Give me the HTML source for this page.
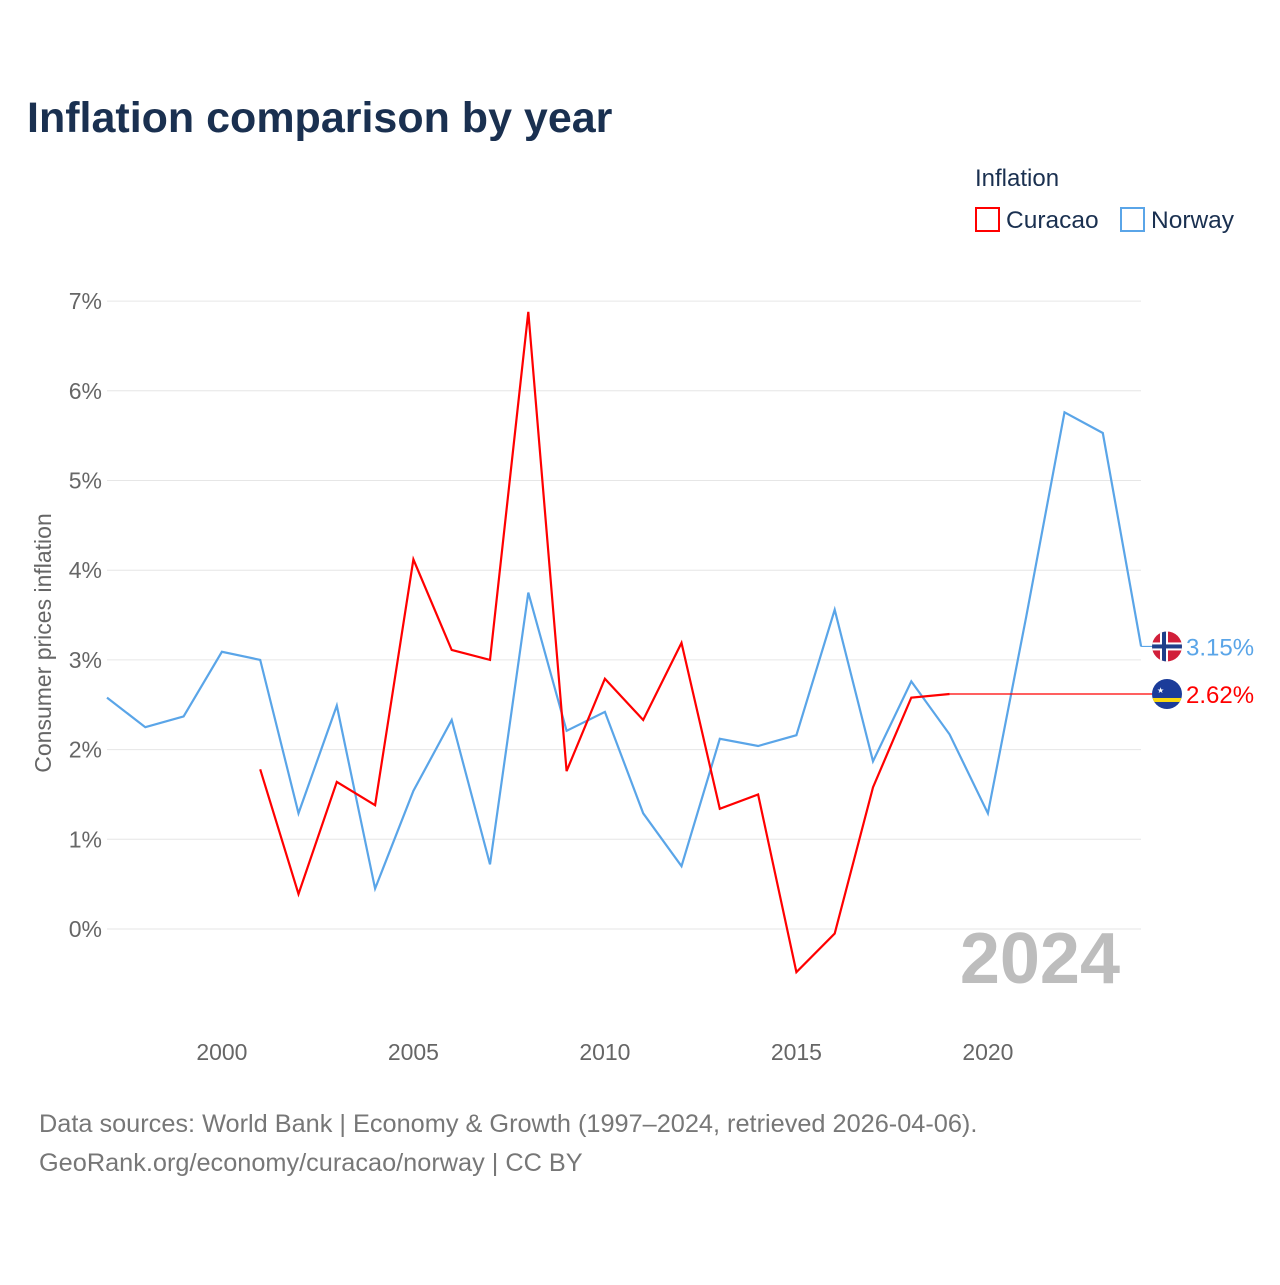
<!DOCTYPE html>
<html><head><meta charset="utf-8"><style>
body{margin:0;background:#fff;font-family:"Liberation Sans",sans-serif;}
svg text{font-family:"Liberation Sans",sans-serif;}
</style></head><body>
<svg width="1280" height="1280" viewBox="0 0 1280 1280">
<text x="27" y="132" font-size="43" font-weight="bold" fill="#1a3050">Inflation comparison by year</text>
<g>
<text x="975" y="186" font-size="24" fill="#1a3050">Inflation</text>
<g><rect x="976" y="208" width="23" height="23" fill="none" stroke="#f00" stroke-width="2"/><text x="1006" y="228" font-size="24.5" fill="#1a3050">Curacao</text></g>
<g><rect x="1121" y="208" width="23" height="23" fill="none" stroke="#5aa5e8" stroke-width="2"/><text x="1151" y="228" font-size="24.5" fill="#1a3050">Norway</text></g>
</g>
<g id="grid"></g>
<g id="yticks"></g>
<g id="xticks"></g>
<text transform="translate(51,643) rotate(-90)" text-anchor="middle" font-size="23" fill="#666">Consumer prices inflation</text>
<text x="1120" y="983" text-anchor="end" font-size="72" font-weight="bold" fill="#bdbdbd">2024</text>
<g id="series"></g>
<g id="endlabels"></g>
<text x="39" y="1132" font-size="25.3" fill="#777">Data sources: World Bank | Economy &amp; Growth (1997–2024, retrieved 2026-04-06).</text>
<text x="39" y="1171" font-size="25.3" fill="#777">GeoRank.org/economy/curacao/norway | CC BY</text>
</svg>
<script>
const years=[1997,1998,1999,2000,2001,2002,2003,2004,2005,2006,2007,2008,2009,2010,2011,2012,2013,2014,2015,2016,2017,2018,2019,2020,2021,2022,2023,2024];
const norway=[2.58,2.25,2.37,3.09,3.00,1.29,2.49,0.45,1.54,2.33,0.72,3.75,2.21,2.42,1.29,0.70,2.12,2.04,2.16,3.56,1.87,2.76,2.17,1.29,3.48,5.76,5.53,3.15];
const curacao=[null,null,null,null,1.78,0.39,1.64,1.38,4.12,3.11,3.00,6.88,1.76,2.79,2.33,3.19,1.34,1.50,-0.48,-0.05,1.58,2.58,2.62,null,null,null,null,null];
const yTicks=[0,1,2,3,4,5,6,7];
const xTicks=[2000,2005,2010,2015,2020];
const NS='http://www.w3.org/2000/svg';
const X=y=>107+(y-1997)*38.3;
const Y=v=>929-v*89.7;
function mk(t,a,p,txt){const e=document.createElementNS(NS,t);for(const k in a)e.setAttribute(k,a[k]);if(txt!==undefined)e.textContent=txt;p.appendChild(e);return e;}
const grid=document.getElementById('grid'),yt=document.getElementById('yticks'),xt=document.getElementById('xticks'),ser=document.getElementById('series'),el=document.getElementById('endlabels');
yTicks.forEach(v=>{
 const l=mk('line',{x1:107,x2:1141,y1:Y(v),y2:Y(v),stroke:'#e6e6e6','stroke-width':1},grid);
 
 
 const t=mk('text',{x:102,y:Y(v)+8,'text-anchor':'end','font-size':23,fill:'#666'},yt,v+'%');
 
 
});
xTicks.forEach(v=>{
 const t=mk('text',{x:X(v),y:1060,'text-anchor':'middle','font-size':23,fill:'#666'},xt,String(v));
 
 
});
function path(vals){let d='';vals.forEach((v,i)=>{if(v===null)return;d+=(d?'L':'M')+X(years[i]).toFixed(1)+','+Y(v).toFixed(1);});return d;}
const pn=mk('path',{d:path(norway),fill:'none',stroke:'#5aa5e8','stroke-width':2.2},ser);


const pc=mk('path',{d:path(curacao),fill:'none',stroke:'#f00','stroke-width':2.2},ser);


const nl=norway[norway.length-1];
let lc=null,lcy=null;curacao.forEach((v,i)=>{if(v!==null){lc=v;lcy=years[i];}});
const c1=mk('line',{x1:X(2024),x2:1160,y1:Y(nl),y2:Y(nl),stroke:'#5aa5e8','stroke-width':1.2},el);


const c2=mk('line',{x1:X(lcy),x2:1160,y1:Y(lc),y2:Y(lc),stroke:'#f00','stroke-width':1.2},el);


const fy=Y(nl),cy=Y(lc);
const gN=mk('g',{},el);


mk('clipPath',{id:'cn'},gN);mk('circle',{cx:1167,cy:fy,r:15},gN.lastChild);
const fg=mk('g',{'clip-path':'url(#cn)'},gN);
mk('rect',{x:1150,y:fy-16,width:34,height:32,fill:'#d11f3a'},fg);
mk('rect',{x:1150,y:fy-4,width:34,height:8,fill:'#fff'},fg);
mk('rect',{x:1160,y:fy-16,width:8,height:32,fill:'#fff'},fg);
mk('rect',{x:1150,y:fy-2,width:34,height:4,fill:'#1f3f8a'},fg);
mk('rect',{x:1162,y:fy-16,width:4,height:32,fill:'#1f3f8a'},fg);
const tn=mk('text',{x:1186,y:fy+9,'font-size':24,fill:'#5aa5e8'},el,nl.toFixed(2)+'%');


const gC=mk('g',{},el);


mk('clipPath',{id:'cc'},gC);mk('circle',{cx:1167,cy:cy,r:15},gC.lastChild);
const cg=mk('g',{'clip-path':'url(#cc)'},gC);
mk('rect',{x:1150,y:cy-16,width:34,height:32,fill:'#1b3c9a'},cg);
mk('rect',{x:1150,y:cy+4,width:34,height:4,fill:'#f9d90f'},cg);
mk('text',{x:1157,y:cy-1,'font-size':8,fill:'#fff'},cg,'★');
const tc=mk('text',{x:1186,y:cy+9,'font-size':24,fill:'#f00'},el,lc.toFixed(2)+'%');


</script>
</body></html>
